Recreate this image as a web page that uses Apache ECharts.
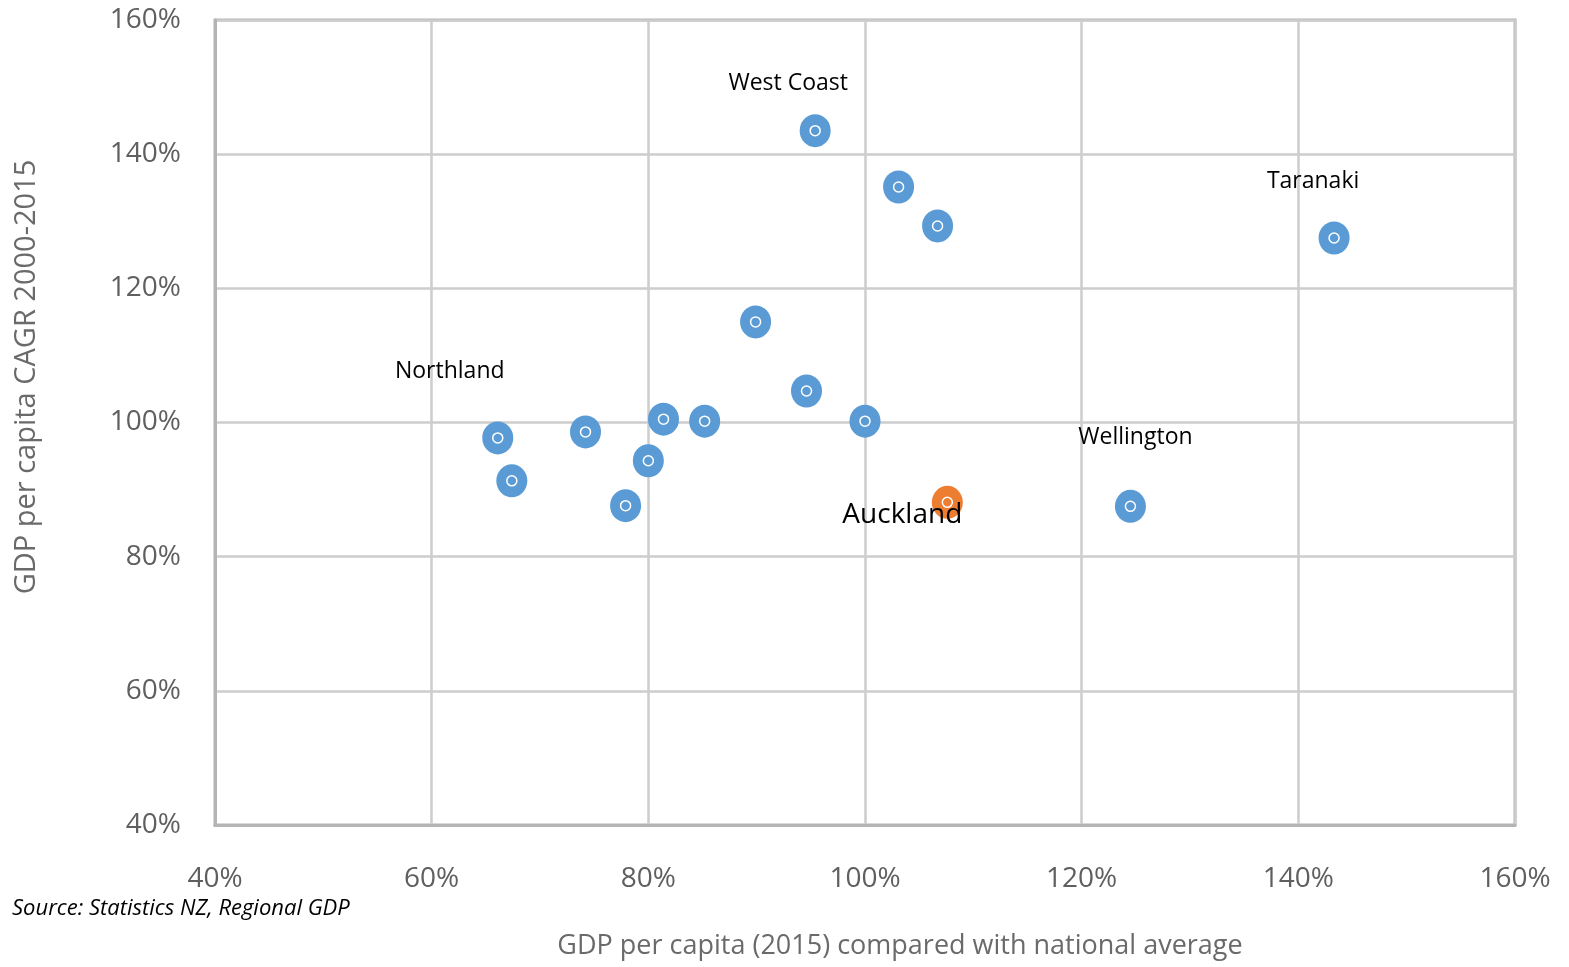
<!DOCTYPE html>
<html>
<head>
<meta charset="utf-8">
<script src="https://cdn.jsdelivr.net/npm/echarts@6/dist/echarts.min.js"></script>
<style>
  html, body { margin: 0; padding: 0; background: #fff; }
  #chart { width: 1569px; height: 967px; }
</style>
</head>
<body>
<div id="chart"></div>
<script>
// Regional GDP per capita vs. growth, New Zealand regions
const regions = ['West Coast', '', '', 'Taranaki', '', '', '', '', '', '', '', 'Northland', '', '', 'Wellington'];
const gdpRelative = [95.4, 103.1, 106.7, 143.3, 89.9, 94.6, 100.0, 85.2, 81.4, 80.0, 74.2, 66.1, 67.4, 77.9, 124.5];
const gdpGrowth = [143.5, 135.1, 129.3, 127.5, 115.0, 104.7, 100.2, 100.2, 100.5, 94.3, 98.6, 97.7, 91.3, 87.6, 87.5];

const highlightName = 'Auckland';
const highlightX = 107.6;
const highlightY = 88.1;

const axisTicks = [40, 60, 80, 100, 120, 140, 160];

// label offsets (px) relative to each marker
const labelOffsets = {
  'West Coast': [-27, -47],
  'Taranaki': [-21, -57],
  'Northland': [-48, -66],
  'Wellington': [5, -69]
};

const FONT = '"Open Sans", sans-serif';

const regionPoints = gdpRelative.map((x, i) => {
  const name = regions[i];
  const p = { value: [x, gdpGrowth[i]], name: name };
  if (name) {
    p.label = {
      show: true,
      formatter: name,
      position: 'inside',
      offset: labelOffsets[name],
      color: '#000',
      fontSize: 23,
      fontFamily: FONT
    };
  }
  return p;
});

const chart = echarts.init(document.getElementById('chart'), null, { renderer: 'canvas' });

const axisCommon = {
  type: 'value',
  min: 40,
  max: 160,
  interval: 20,
  axisLine: { show: true, lineStyle: { color: '#b4b4b4', width: 3 } },
  axisTick: { show: false },
  splitLine: { show: true, lineStyle: { color: '#cdcdcd', width: 2.5 } },
  axisLabel: {
    color: '#5f5f5f',
    fontSize: 28,
    fontFamily: FONT,
    formatter: v => axisTicks.includes(v) ? v + '%' : ''
  }
};

chart.setOption({
  animation: false,
  backgroundColor: '#fff',
  grid: { left: 215, right: 54, top: 20, bottom: 142, show: true, borderColor: '#b4b4b4', borderWidth: 3, containLabel: false },
  xAxis: Object.assign({}, axisCommon, {
    name: 'GDP per capita (2015) compared with national average',
    nameLocation: 'middle',
    nameGap: 108,
    nameTextStyle: { color: '#6a6a6a', fontSize: 27, fontFamily: FONT, padding: [0, 0, 0, 70] },
    axisLabel: Object.assign({}, axisCommon.axisLabel, { margin: 40 })
  }),
  yAxis: Object.assign({}, axisCommon, {
    axisLabel: Object.assign({}, axisCommon.axisLabel, { margin: 34 })
  }),
  graphic: [
    {
      type: 'text',
      x: 27,
      y: 377,
      rotation: Math.PI / 2,
      style: {
        text: 'GDP per capita CAGR 2000-2015',
        fill: '#6a6a6a',
        fontSize: 29,
        fontFamily: FONT,
        align: 'center',
        verticalAlign: 'middle'
      }
    },
    {
      type: 'text',
      left: 12,
      top: 898,
      style: {
        text: 'Source: Statistics NZ, Regional GDP',
        fill: '#000',
        fontSize: 22,
        fontStyle: 'italic',
        fontFamily: FONT
      }
    }
  ],
  series: [
    {
      type: 'scatter',
      symbol: 'circle',
      symbolSize: [31, 33],
      itemStyle: { color: '#5b9bd5', opacity: 1 },
      data: regionPoints,
      z: 3
    },
    {
      type: 'scatter',
      symbol: 'circle',
      symbolSize: [31, 33],
      itemStyle: { color: '#ed7d31', opacity: 1 },
      data: [{
        value: [highlightX, highlightY],
        name: highlightName,
        label: {
          show: true,
          formatter: highlightName,
          position: 'inside',
          offset: [-45, 13],
          color: '#000',
          fontSize: 28,
          fontFamily: FONT
        }
      }],
      z: 4
    },
    {
      // small white ring at each marker centre
      type: 'scatter',
      symbol: 'circle',
      symbolSize: 10,
      silent: true,
      itemStyle: { color: 'rgba(0,0,0,0)', borderColor: '#ffffff', borderWidth: 1.5, opacity: 1 },
      data: gdpRelative.map((x, i) => [x, gdpGrowth[i]]).concat([[highlightX, highlightY]]),
      z: 5
    }
  ]
});
</script>
</body>
</html>
